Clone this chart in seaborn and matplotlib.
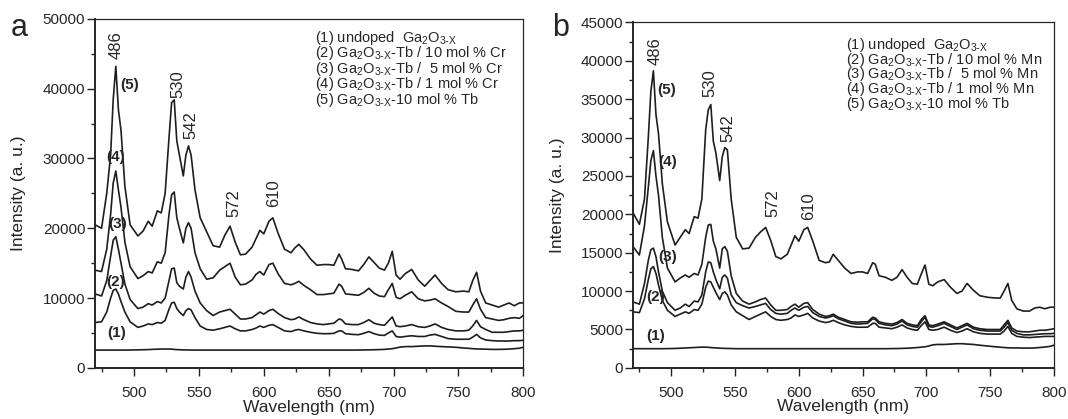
import pandas as pd
import numpy as np
import matplotlib
matplotlib.use('Agg')
import matplotlib.pyplot as plt
from matplotlib.ticker import MultipleLocator
import seaborn as sns

sns.set_style('ticks')
plt.rcParams['font.family'] = ['Liberation Sans', 'DejaVu Sans']
plt.rcParams['mathtext.default'] = 'regular'

# wavelength grid (nm) shared by every spectrum
wl = [470, 475, 479, 482, 484, 486, 488, 490, 493, 497,
      503, 507, 511, 514, 518, 521, 524, 527, 529, 531,
      533, 535, 538, 540, 542, 544, 547, 551, 556, 561,
      566, 570, 574, 578, 582, 586, 591, 594, 597, 600,
      604, 607, 611, 616, 621, 624, 627, 631, 636, 641,
      646, 650, 654, 658, 660, 663, 668, 673, 677, 681,
      685, 689, 693, 696, 699, 702, 705, 709, 714, 719,
      724, 728, 732, 737, 742, 748, 754, 758, 761, 764,
      767, 771, 776, 781, 785, 789, 793, 797, 800]

# panel a (Cr series)
a_undoped = [2550, 2550, 2550, 2550, 2550, 2550, 2550, 2550, 2550, 2560,
             2580, 2600, 2620, 2650, 2680, 2700, 2700, 2700, 2680, 2650,
             2620, 2600, 2580, 2570, 2560, 2560, 2550, 2550, 2550, 2550,
             2550, 2550, 2550, 2550, 2550, 2550, 2550, 2550, 2550, 2550,
             2550, 2550, 2550, 2550, 2550, 2550, 2550, 2550, 2550, 2550,
             2550, 2550, 2550, 2550, 2550, 2550, 2550, 2560, 2570, 2580,
             2600, 2620, 2650, 2700, 2750, 2850, 2980, 3050, 3050, 3100,
             3150, 3150, 3100, 3050, 3000, 2950, 2850, 2800, 2750, 2720,
             2700, 2680, 2650, 2650, 2660, 2700, 2750, 2820, 2950]
a_cr10 = [6500, 6600, 8000, 10000, 11100, 11300, 10600, 9500, 8000, 6600,
          5800, 6000, 6300, 6200, 6500, 6400, 6800, 8400, 9300, 9400,
          8500, 8000, 7500, 8200, 8500, 8300, 7200, 6000, 5500, 5400,
          5600, 5800, 6000, 5600, 5300, 5300, 5500, 5700, 6000, 5800,
          6100, 6200, 5800, 5300, 5200, 5400, 5500, 5300, 5100, 4950,
          4900, 4900, 4950, 5300, 5300, 4900, 4800, 4750, 4950, 5200,
          4900, 4700, 4650, 5000, 5300, 4500, 4400, 4500, 4600, 4500,
          4500, 4700, 4800, 4500, 4200, 4100, 4100, 4100, 4400, 4800,
          4300, 4000, 3900, 3850, 3850, 3850, 3900, 3900, 3950]
a_cr5 = [10600, 10300, 12500, 16000, 18300, 18800, 17000, 15000, 12000, 9800,
         8500, 8700, 9200, 9000, 9500, 9300, 10000, 12500, 14200, 14300,
         12200, 11700, 11300, 13000, 13800, 13000, 11000, 9300, 8200, 7500,
         8000, 8200, 8400, 7700, 7000, 7000, 7200, 7600, 8000, 7700,
         8200, 8400, 7800, 7200, 6900, 7000, 7300, 6900, 6500, 6300,
         6200, 6300, 6400, 7000, 6900, 6300, 6200, 6200, 6500, 6900,
         6400, 6200, 6100, 6700, 7300, 6000, 5900, 6000, 6200, 5900,
         5800, 6000, 6300, 5800, 5500, 5300, 5300, 5400, 6000, 6800,
         5900, 5500, 5100, 5100, 5100, 5200, 5300, 5300, 5400]
a_cr1 = [14000, 13800, 17000, 22000, 26500, 28200, 25500, 23000, 18000, 14500,
         12800, 13200, 13800, 13600, 15200, 15000, 16500, 22000, 24800, 25200,
         21500, 20000, 17900, 20000, 20800, 20000, 16500, 14200, 12700, 12900,
         14000, 14500, 15000, 13000, 11900, 12000, 12600, 13400, 13800, 13300,
         14800, 15000, 13500, 12100, 11900, 12100, 12400, 11800, 11200, 10500,
         10500, 10600, 10700, 12000, 11700, 10600, 10500, 10400, 10800, 11400,
         10700, 10300, 10200, 11200, 12100, 10100, 9900, 10400, 10900, 9900,
         9600, 9700, 9900, 9300, 8800, 8100, 8000, 8000, 9000, 9900,
         8400, 7200, 7000, 6800, 6900, 7100, 7200, 7100, 7500]
a_tb = [20500, 20000, 25000, 30500, 38500, 43200, 37000, 34000, 26000, 20500,
        18900, 19600, 21000, 20300, 22500, 22200, 25000, 33000, 38000, 38400,
        32500, 30500, 27500, 30500, 31800, 30500, 25500, 21500, 19500, 17500,
        17300, 19000, 20300, 18000, 16200, 16300, 17300, 18500, 19700, 19200,
        21000, 21500, 19300, 17000, 16500, 17200, 17700, 16900, 15600, 14700,
        14800, 14800, 14700, 16300, 15600, 14200, 14100, 13900, 14800, 15900,
        15100, 14300, 14000, 15000, 16700, 13300, 12700, 13500, 14100, 12600,
        11700, 12500, 13300, 12100, 11200, 10900, 11000, 10900, 12500, 13700,
        11000, 9300, 9000, 8700, 9000, 9300, 8900, 9300, 9300]

# panel b (Mn series)
b_undoped = [2500, 2500, 2500, 2500, 2500, 2500, 2500, 2500, 2500, 2510,
             2530, 2560, 2590, 2620, 2650, 2680, 2700, 2700, 2680, 2650,
             2620, 2600, 2570, 2550, 2540, 2530, 2520, 2500, 2500, 2500,
             2500, 2500, 2500, 2500, 2500, 2500, 2500, 2500, 2500, 2500,
             2500, 2500, 2500, 2500, 2500, 2500, 2500, 2500, 2500, 2500,
             2500, 2500, 2500, 2500, 2500, 2500, 2500, 2510, 2520, 2540,
             2560, 2600, 2650, 2700, 2750, 2850, 3000, 3050, 3050, 3100,
             3150, 3150, 3100, 3050, 2950, 2850, 2750, 2700, 2650, 2620,
             2600, 2600, 2580, 2580, 2600, 2650, 2720, 2800, 2950]
b_mn10 = [7300, 7200, 9000, 11500, 12900, 13200, 12300, 10800, 8800, 7500,
          6700, 7000, 7300, 7100, 7600, 7500, 8300, 10500, 11300, 11200,
          10500, 9800, 8900, 9700, 9900, 9500, 8200, 7300, 6800, 6300,
          6700, 7000, 7300, 6700, 6300, 6200, 6300, 6500, 6900, 6700,
          6900, 7100, 6500, 6100, 5900, 6000, 6200, 5900, 5600, 5400,
          5300, 5300, 5300, 5800, 5800, 5300, 5200, 5100, 5300, 5600,
          5200, 5000, 4900, 5500, 6000, 5000, 4900, 5000, 5300, 4900,
          4600, 4800, 5100, 4700, 4500, 4400, 4400, 4400, 4800, 5400,
          4500, 4100, 4000, 3950, 4000, 4050, 4100, 4100, 4100]
b_mn5 = [8600, 8300, 11000, 14000, 15400, 15600, 14500, 12500, 10000, 8500,
         7500, 7800, 8300, 8000, 8700, 8600, 9500, 12500, 13800, 13700,
         12500, 11500, 10300, 11800, 12100, 11700, 9500, 8500, 8100, 7800,
         8000, 8200, 8400, 7600, 7100, 7000, 7100, 7500, 7800, 7500,
         7900, 8000, 7200, 6700, 6500, 6600, 6800, 6400, 6100, 5800,
         5700, 5750, 5800, 6400, 6300, 5800, 5600, 5500, 5700, 6100,
         5600, 5400, 5300, 6000, 6600, 5400, 5300, 5500, 5800, 5400,
         5000, 5300, 5600, 5100, 4900, 4800, 4800, 4800, 5300, 5900,
         4900, 4500, 4300, 4300, 4350, 4400, 4450, 4450, 4500]
b_mn1 = [15800, 14700, 18500, 23500, 27000, 28300, 25000, 22500, 17000, 13000,
         11200, 11700, 12100, 11800, 12300, 12100, 13500, 17000, 18600, 18700,
         16500, 15500, 13000, 15500, 15800, 15200, 12000, 9700, 8700, 8300,
         8600, 8900, 9100, 8200, 7500, 7500, 7600, 8000, 8300, 7900,
         8400, 8500, 7600, 7000, 6700, 6800, 7000, 6600, 6300, 6000,
         5950, 6000, 6000, 6600, 6500, 6000, 5800, 5700, 5900, 6300,
         5800, 5600, 5500, 6300, 6800, 5600, 5500, 5700, 6000, 5600,
         5200, 5500, 5800, 5300, 5100, 5000, 5000, 5000, 5600, 6200,
         5200, 4800, 4700, 4700, 4800, 4900, 4900, 5000, 5100]
b_tb = [20200, 18700, 22000, 30000, 36000, 38700, 33000, 30500, 24000, 19000,
        16000, 17000, 18000, 17500, 19700, 19500, 22000, 31000, 33600, 34300,
        29500, 28000, 24400, 27500, 28700, 28400, 22000, 17000, 15500, 15600,
        17000, 17700, 18300, 16600, 14500, 14200, 14800, 16000, 17200, 16500,
        18000, 18300, 16500, 14000, 13700, 13800, 14800, 14000, 13000, 12300,
        12500, 12500, 12300, 13700, 13500, 12000, 11800, 11400, 11800, 12800,
        11800, 11000, 10900, 12200, 13400, 10900, 10700, 11200, 11500, 10500,
        9700, 10000, 11000, 10100, 9400, 9200, 9100, 9100, 10000, 11000,
        8800, 7700, 7400, 7400, 7800, 7900, 7700, 7900, 7900]

peaks = ['486', '530', '542', '572', '610']
a_peak_pos = [(486, 44200), (533.6, 38700), (544.2, 32800), (577, 21600), (607.7, 23100)]
b_peak_pos = [(487.4, 39500), (530.4, 35300), (544.4, 29400), (579.5, 19700), (607.6, 19200)]
curve_tags = ['(1)', '(2)', '(3)', '(4)', '(5)']
a_tag_pos = [(486.8, 5000), (486, 12340), (487.3, 20570), (486, 30150), (496.6, 40560)]
b_tag_pos = [(487.4, 4180), (487.9, 9230), (497.3, 14500), (497.3, 26760), (496, 36200)]

gox = r'Ga$_2$O$_{3\text{-}X}$'
a_legend = ['(1) undoped  ' + gox,
            '(2) ' + gox + '-Tb / 10 mol % Cr',
            '(3) ' + gox + '-Tb /  5 mol % Cr',
            '(4) ' + gox + '-Tb / 1 mol % Cr',
            '(5) ' + gox + '-10 mol % Tb']
b_legend = [s.replace('Cr', 'Mn') for s in a_legend]


def long_form(curves):
    frames = []
    for name, vals in curves.items():
        frames.append(pd.DataFrame({'wl': wl, 'intensity': vals, 'sample': name}))
    return pd.concat(frames, ignore_index=True)


df_a = long_form({'1': a_undoped, '2': a_cr10, '3': a_cr5, '4': a_cr1, '5': a_tb})
df_b = long_form({'1': b_undoped, '2': b_mn10, '3': b_mn5, '4': b_mn1, '5': b_tb})

fig = plt.figure(figsize=(10.68, 4.19), dpi=100)
ax_a = fig.add_axes([0.089, 0.122, 0.401, 0.833])
ax_b = fig.add_axes([0.5927, 0.122, 0.394, 0.8245])

panels = [
    (ax_a, df_a, 50000, 10000, 5000, a_peak_pos, a_tag_pos, a_legend, (0.514, 0.946), 0.0445),
    (ax_b, df_b, 45000, 5000, 2500, b_peak_pos, b_tag_pos, b_legend, (0.505, 0.935), 0.0425),
]

for ax, df, ymax, ymaj, ymin, ppos, tpos, leg, lxy, lstep in panels:
    sns.lineplot(data=df, x='wl', y='intensity', units='sample', estimator=None,
                 color='#1e1e1e', lw=1.2, ax=ax, legend=False)
    ax.set_xlim(470, 800)
    ax.set_ylim(0, ymax)
    ax.xaxis.set_major_locator(MultipleLocator(50))
    ax.xaxis.set_minor_locator(MultipleLocator(25))
    ax.yaxis.set_major_locator(MultipleLocator(ymaj))
    ax.yaxis.set_minor_locator(MultipleLocator(ymin))
    ax.tick_params(which='major', direction='out', width=1, labelsize=11, color='#222222')
    ax.tick_params(which='minor', direction='out', length=3, width=1, color='#222222')
    ax.tick_params(axis='x', which='major', length=6, pad=7)
    ax.tick_params(axis='y', which='major', length=5.5, pad=1.5)
    for side in ['left', 'bottom']:
        ax.spines[side].set_linewidth(1.4)
    for side in ['top', 'right']:
        ax.spines[side].set_linewidth(0.9)
    ax.set_xlabel('Wavelength (nm)', fontsize=12.5, va='center')
    ax.set_ylabel('Intensity (a. u.)', fontsize=12.5)
    ax.xaxis.set_label_coords(0.5, -0.113)
    ax.yaxis.set_label_coords(-0.162, 0.5)
    for lab, (x, y) in zip(peaks, ppos):
        ax.text(x, y, lab, rotation=90, ha='center', va='bottom', fontsize=12)
    for lab, (x, y) in zip(curve_tags, tpos):
        ax.text(x, y, lab, ha='center', va='center', fontsize=11, fontweight='bold')
    for i, line in enumerate(leg):
        ax.text(lxy[0], lxy[1] - i * lstep, line, transform=ax.transAxes,
                ha='left', va='center', fontsize=10.5)

fig.text(19 / 1068, 1 - 36 / 419, 'a', fontsize=22, ha='center', va='baseline')
fig.text(561 / 1068, 1 - 36 / 419, 'b', fontsize=22, ha='center', va='baseline')

fig.savefig('out.png', dpi=100)
